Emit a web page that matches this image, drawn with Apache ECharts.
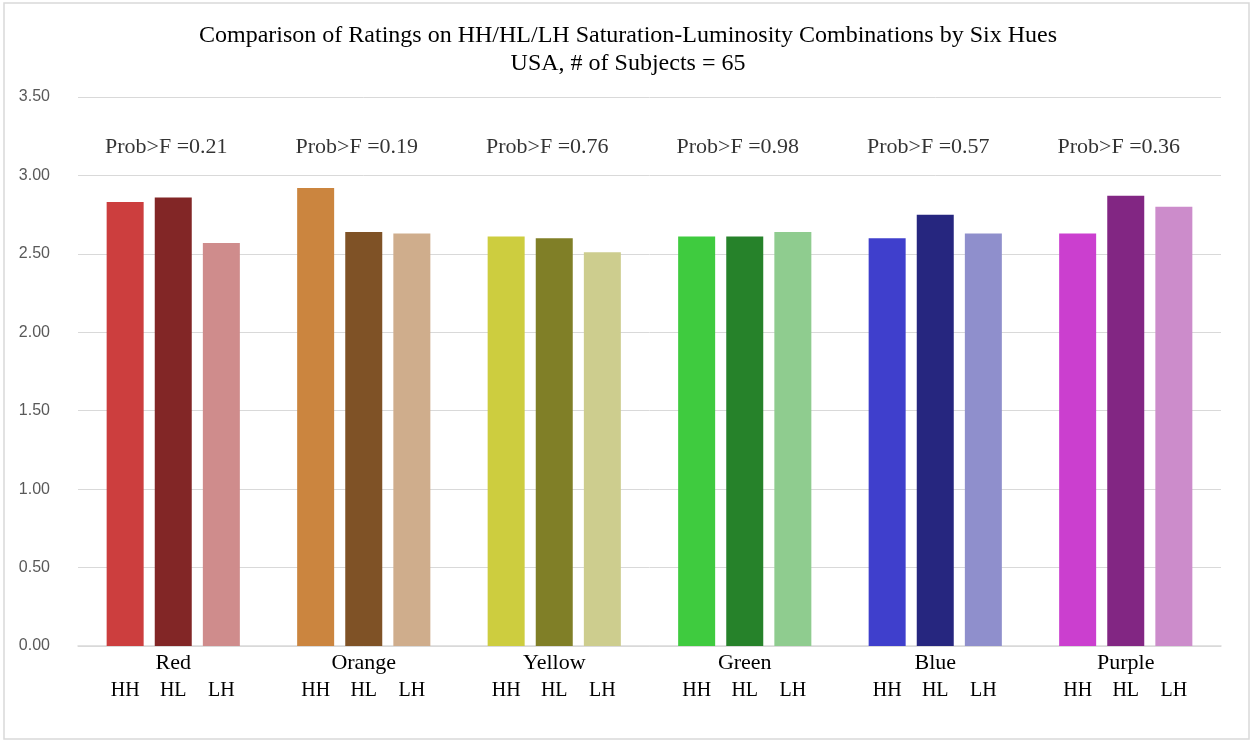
<!DOCTYPE html>
<html>
<head>
<meta charset="utf-8">
<title>Ratings by Six Hues</title>
<script src="https://cdn.jsdelivr.net/npm/echarts@6/dist/echarts.min.js"></script>
<style>
  html, body { margin: 0; padding: 0; background: #fff; }
  #chart { width: 1256px; height: 741px; }
</style>
</head>
<body>
<div id="chart"></div>
<script>
// data
var hues = ['Red', 'Orange', 'Yellow', 'Green', 'Blue', 'Purple'];
var combos = ['HH', 'HL', 'LH'];
var hhValues = [2.83, 2.92, 2.61, 2.61, 2.60, 2.63];
var hlValues = [2.86, 2.64, 2.60, 2.61, 2.75, 2.87];
var lhValues = [2.57, 2.63, 2.51, 2.64, 2.63, 2.80];
var probF = ['0.21', '0.19', '0.76', '0.98', '0.57', '0.36'];

// colours per hue, one list per combination
var hhColors = ['#CC3E3E', '#CB853F', '#CDCD3F', '#3FCB3F', '#3F3FCC', '#CB3FCF'];
var hlColors = ['#822626', '#7F5226', '#807F27', '#26822A', '#26267F', '#822683'];
var lhColors = ['#CF8C8C', '#CFAD8C', '#CDCD8E', '#8FCC8F', '#8F8FCC', '#CC8CCB'];

var serif = '"Liberation Serif", "Times New Roman", serif';
var probLabelY = 3.18;

function barSeries(name, values, colors) {
  return {
    name: name,
    type: 'bar',
    barWidth: 37,
    barGap: '30%',
    data: values,
    itemStyle: {
      color: function (p) { return colors[p.dataIndex]; }
    }
  };
}

var chart = echarts.init(document.getElementById('chart'));
chart.setOption({
  animation: false,
  title: {
    text: 'Comparison of Ratings on HH/HL/LH Saturation-Luminosity Combinations by Six Hues\nUSA, # of Subjects = 65',
    left: 'center',
    top: 17,
    textStyle: {
      fontFamily: serif,
      fontWeight: 'normal',
      fontSize: 24,
      lineHeight: 28,
      color: '#000'
    }
  },
  graphic: [{
    type: 'rect',
    shape: { x: 4, y: 3, width: 1245, height: 736 },
    style: { fill: 'none', stroke: '#d9d9d9', lineWidth: 1.5 },
    silent: true
  }],
  grid: { left: 78, right: 35, top: 97, bottom: 95 },
  xAxis: {
    type: 'category',
    data: hues,
    axisTick: { show: false },
    axisLine: { lineStyle: { color: '#d9d9d9', width: 1.5 } },
    axisLabel: {
      margin: 4,
      interval: 0,
      formatter: function (v) {
        return '{hue|' + v + '}\n' + combos.map(function (c) { return '{s|' + c + '}'; }).join('');
      },
      rich: {
        hue: { fontFamily: serif, fontSize: 22, lineHeight: 27, color: '#000', align: 'center' },
        s: { fontFamily: serif, fontSize: 20, lineHeight: 27, color: '#000', width: 48, align: 'center' }
      }
    }
  },
  yAxis: {
    type: 'value',
    min: 0,
    max: 3.5,
    interval: 0.5,
    axisLine: { show: false },
    axisTick: { show: false },
    splitLine: { lineStyle: { color: '#d9d9d9', width: 1 } },
    axisLabel: {
      margin: 28,
      color: '#595959',
      fontSize: 16,
      fontFamily: '"Liberation Sans", Arial, sans-serif',
      formatter: function (v) { return v.toFixed(2); }
    }
  },
  series: [
    barSeries('HH', hhValues, hhColors),
    barSeries('HL', hlValues, hlColors),
    barSeries('LH', lhValues, lhColors),
    {
      name: 'Prob>F',
      type: 'scatter',
      symbolSize: 0,
      silent: true,
      data: probF.map(function (p, i) { return { value: [i, probLabelY], prob: p }; }),
      label: {
        show: true,
        position: 'inside',
        offset: [-7, 0],
        fontFamily: serif,
        fontSize: 22,
        color: '#000',
        formatter: function (p) { return 'Prob>F =' + p.data.prob; }
      }
    }
  ]
});
</script>
</body>
</html>
